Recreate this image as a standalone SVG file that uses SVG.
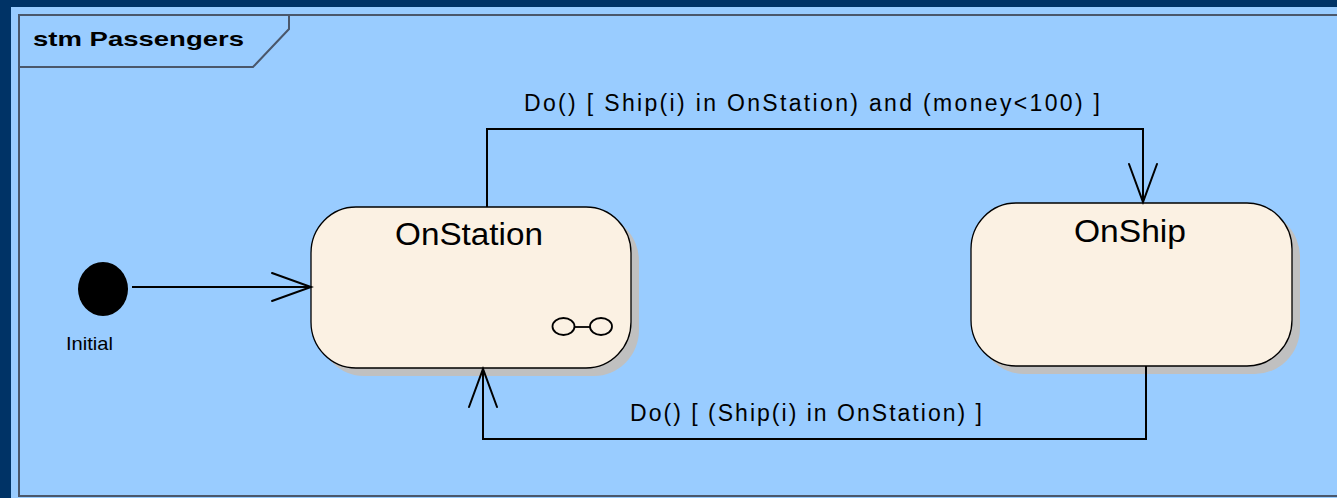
<svg xmlns="http://www.w3.org/2000/svg" width="1337" height="498" viewBox="0 0 1337 498">
  <style>
    .frame { fill: none; stroke: #4a576b; stroke-width: 2; }
    .state { fill: #fbf1e3; stroke: #000; stroke-width: 1.3; }
    .shadow { fill: #c0c0c0; }
    .edge { fill: none; stroke: #000; stroke-width: 2; }
    .head { fill: none; stroke: #000; stroke-width: 2; stroke-linecap: round; }
    .lbl { font-family: "Liberation Sans", Arial, sans-serif; fill: #000; }
  </style>

  <!-- backdrop -->
  <rect x="0" y="0" width="1337" height="498" fill="#003366"/>
  <rect x="11" y="7" width="1326" height="491" fill="#99ccff"/>

  <!-- diagram frame with name tab -->
  <g id="frame">
    <path class="frame" d="M1337,15 H19 V496 H1337"/>
    <path class="frame" d="M19,67 H253 L289,29 V15"/>
    <text class="lbl" x="33" y="46" font-size="21" font-weight="bold" textLength="211" lengthAdjust="spacingAndGlyphs">stm Passengers</text>
  </g>

  <!-- initial pseudo-state -->
  <g id="initial">
    <ellipse cx="103" cy="289" rx="25" ry="27" fill="#000"/>
    <text class="lbl" x="66" y="350" font-size="19" textLength="47" lengthAdjust="spacingAndGlyphs">Initial</text>
  </g>

  <!-- state OnStation -->
  <g id="OnStation">
    <rect class="shadow" x="319" y="215" width="320" height="161" rx="45" ry="46"/>
    <rect class="state" x="311" y="207" width="320" height="161" rx="45" ry="46"/>
    <text class="lbl" x="395" y="245" font-size="31" textLength="148" lengthAdjust="spacingAndGlyphs">OnStation</text>
    <!-- composite-state glyph -->
    <g fill="none" stroke="#000" stroke-width="1.8">
      <ellipse cx="563.5" cy="326.5" rx="11" ry="8.5"/>
      <ellipse cx="601" cy="326.5" rx="11" ry="8.5"/>
      <line x1="575" y1="327" x2="590" y2="327"/>
    </g>
  </g>

  <!-- state OnShip -->
  <g id="OnShip">
    <rect class="shadow" x="979" y="211" width="321" height="163" rx="45" ry="46"/>
    <rect class="state" x="971" y="203" width="321" height="163" rx="45" ry="46"/>
    <text class="lbl" x="1074" y="242" font-size="31" textLength="112" lengthAdjust="spacingAndGlyphs">OnShip</text>
  </g>

  <!-- transitions -->
  <g id="connectors">
    <!-- Initial -> OnStation -->
    <line class="edge" x1="132" y1="287" x2="311" y2="287"/>
    <polyline class="head" points="272,273 311,287 272,301"/>

    <!-- OnStation -> OnShip -->
    <polyline class="edge" points="487,207 487,129 1143,129 1143,202"/>
    <polyline class="head" points="1129,164 1143,202 1157,164"/>
    <text class="lbl" x="524" y="111" font-size="23" textLength="576" lengthAdjust="spacing">Do() [ Ship(i) in OnStation) and (money&lt;100) ]</text>

    <!-- OnShip -> OnStation -->
    <polyline class="edge" points="1146,366 1146,439 483,439 483,369"/>
    <polyline class="head" points="469,407 483,369 497,407"/>
    <text class="lbl" x="630" y="421" font-size="23" textLength="352" lengthAdjust="spacing">Do() [ (Ship(i) in OnStation) ]</text>
  </g>
</svg>
